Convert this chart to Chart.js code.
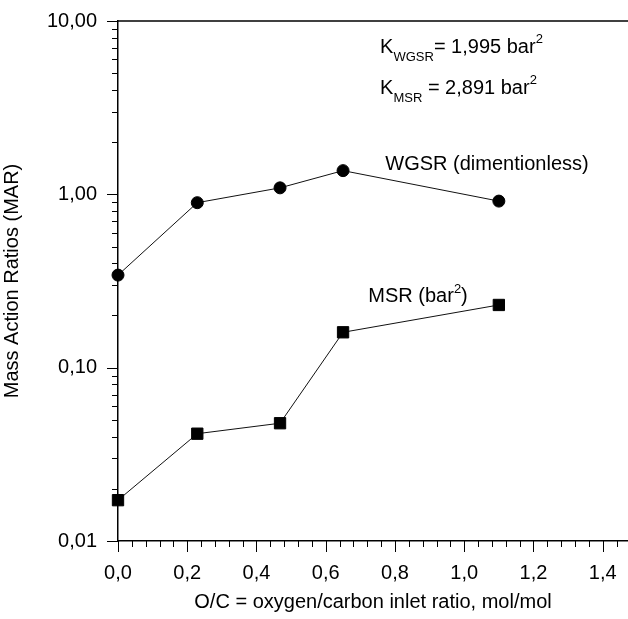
<!DOCTYPE html>
<html>
<head>
<meta charset="utf-8">
<script src="https://cdn.jsdelivr.net/npm/chart.js@4.4.1/dist/chart.umd.min.js"></script>
<style>
  html, body { margin: 0; padding: 0; background: #fff; overflow: hidden; }
  #wrap { width: 628px; height: 619px; }
</style>
</head>
<body>
<div id="wrap"><canvas id="mar-chart"></canvas></div>
<script>
// O/C ratio (mol/mol) and mass action ratios
const ocRatio = [0, 0.229, 0.468, 0.650, 1.100];
const wgsrMar = [0.342, 0.895, 1.09, 1.37, 0.914];
const msrMar  = [0.0172, 0.0416, 0.0478, 0.160, 0.230];

const xTicks = [0, 0.2, 0.4, 0.6, 0.8, 1.0, 1.2, 1.4];
const yTicks = [0.01, 0.1, 1, 10];

Chart.defaults.font.family = "'Liberation Sans', Arial, sans-serif";
Chart.defaults.font.size = 20;
Chart.defaults.color = '#000';

function toPoints(xs, ys) {
    return xs.map(function (x, i) { return { x: x, y: ys[i] }; });
}

// minor / major tick marks and top frame line
const tickMarks = {
    id: 'tickMarks',
    afterDraw: function (chart) {
        const ctx = chart.ctx;
        const area = chart.chartArea;
        const xs = chart.scales.x;
        const ys = chart.scales.y;
        ctx.save();
        ctx.strokeStyle = '#000';
        ctx.lineWidth = 1;
        ctx.beginPath();
        // x ticks every 0.04, major every 0.2
        for (let i = 0; i <= 40; i++) {
            const v = i * 0.04;
            if (v > xs.max) break;
            const px = Math.round(xs.getPixelForValue(v)) + 0.5;
            const len = (i % 5 === 0) ? 11 : 6;
            ctx.moveTo(px, area.bottom);
            ctx.lineTo(px, area.bottom + len);
        }
        // y ticks: decades major, 2..9 minor
        [0.01, 0.1, 1].forEach(function (d) {
            for (let m = 1; m <= 9; m++) {
                const py = Math.round(ys.getPixelForValue(d * m)) + 0.5;
                const len = m === 1 ? 11 : 6;
                ctx.moveTo(area.left, py);
                ctx.lineTo(area.left - len, py);
            }
        });
        const pTop = Math.round(ys.getPixelForValue(10)) + 0.5;
        ctx.moveTo(area.left - 11, pTop);
        ctx.lineTo(area.left, pTop);
        ctx.stroke();

        ctx.lineWidth = 1.5;
        ctx.beginPath();
        ctx.moveTo(area.left, area.top);
        ctx.lineTo(area.right, area.top);
        ctx.stroke();
        ctx.restore();
    }
};

// text segments: [text, size, baseline shift]
const notes = [
    { x: 0.757, y: 6.53, parts: [['K', 20, 0], ['WGSR', 13, 8], ['= 1,995 bar', 20, 0], ['2', 13, -10]] },
    { x: 0.757, y: 3.79, parts: [['K', 20, 0], ['MSR', 13, 8], [' = 2,891 bar', 20, 0], ['2', 13, -10]] },
    { x: 0.772, y: 1.38, parts: [['WGSR (dimentionless)', 20, 0]] },
    { x: 0.723, y: 0.239, parts: [['MSR (bar', 20, 0], ['2', 13, -9], [')', 20, 0]] }
];

const noteText = {
    id: 'noteText',
    afterDraw: function (chart) {
        const ctx = chart.ctx;
        const xs = chart.scales.x;
        const ys = chart.scales.y;
        ctx.save();
        ctx.fillStyle = '#000';
        ctx.textBaseline = 'alphabetic';
        ctx.textAlign = 'left';
        notes.forEach(function (n) {
            let px = xs.getPixelForValue(n.x);
            const py = ys.getPixelForValue(n.y);
            n.parts.forEach(function (p) {
                ctx.font = p[1] + "px 'Liberation Sans', Arial, sans-serif";
                ctx.fillText(p[0], px, py + p[2]);
                px += ctx.measureText(p[0]).width;
            });
        });
        ctx.restore();
    }
};

new Chart(document.getElementById('mar-chart'), {
    type: 'line',
    data: {
        datasets: [{
            label: 'WGSR',
            data: toPoints(ocRatio, wgsrMar),
            borderColor: '#111',
            borderWidth: 1,
            backgroundColor: '#000',
            pointStyle: 'circle',
            pointRadius: 6,
            pointBorderWidth: 1,
            pointBorderColor: '#000',
            clip: false,
            tension: 0
        }, {
            label: 'MSR',
            data: toPoints(ocRatio, msrMar),
            borderColor: '#111',
            borderWidth: 1,
            backgroundColor: '#000',
            pointStyle: 'rect',
            pointRadius: 8,
            pointBorderWidth: 1,
            pointBorderColor: '#000',
            clip: false,
            tension: 0
        }]
    },
    options: {
        responsive: true,
        maintainAspectRatio: false,
        animation: false,
        layout: { padding: { top: 21, left: 0, right: 0, bottom: 0 }, autoPadding: false },
        plugins: {
            legend: { display: false },
            tooltip: { enabled: false }
        },
        scales: {
            x: {
                type: 'linear',
                min: 0,
                max: 1.473,
                afterBuildTicks: function (scale) {
                    scale.ticks = xTicks.map(function (v) { return { value: v }; });
                },
                afterFit: function (scale) {
                    scale.height = 78;
                    scale.paddingLeft = 0;
                    scale.paddingRight = 0;
                },
                ticks: {
                    padding: 20,
                    autoSkip: false,
                    maxRotation: 0,
                    callback: function (v) { return v.toFixed(1).replace('.', ','); }
                },
                grid: { drawOnChartArea: false, drawTicks: false },
                border: { display: true, color: '#000', width: 1.5 },
                title: {
                    display: true,
                    text: 'O/C = oxygen/carbon inlet ratio, mol/mol',
                    padding: { top: 0, bottom: 5 }
                }
            },
            y: {
                type: 'logarithmic',
                min: 0.01,
                max: 10,
                afterBuildTicks: function (scale) {
                    scale.ticks = yTicks.map(function (v) { return { value: v }; });
                },
                afterFit: function (scale) {
                    scale.width = 118;
                    scale.paddingTop = 0;
                    scale.paddingBottom = 0;
                },
                ticks: {
                    padding: 21,
                    autoSkip: false,
                    callback: function (v) { return Number(v).toFixed(2).replace('.', ','); }
                },
                grid: { drawOnChartArea: false, drawTicks: false },
                border: { display: true, color: '#000', width: 1.5 },
                title: {
                    display: true,
                    text: 'Mass Action Ratios (MAR)',
                    padding: { top: 0, bottom: 0 }
                }
            }
        }
    },
    plugins: [tickMarks, noteText]
});
</script>
</body>
</html>
